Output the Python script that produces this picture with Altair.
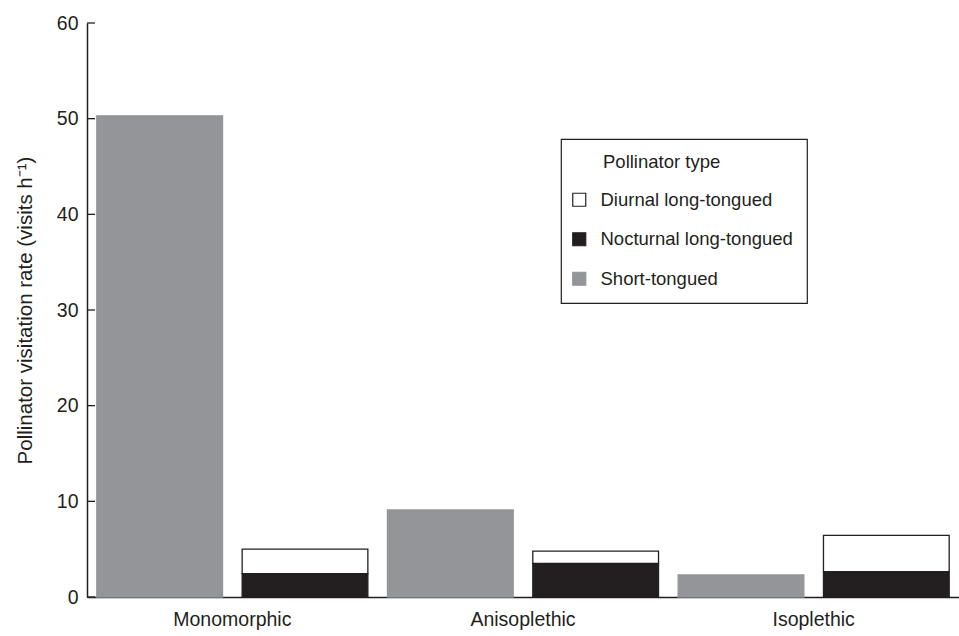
import altair as alt
import pandas as pd

# Visitation rates (visits per hour) by floral morph and pollinator group
morphs = ["Monomorphic", "Anisoplethic", "Isoplethic"]
short_tongued = [50.3, 9.1, 2.3]
nocturnal_long = [2.45, 3.5, 2.65]
diurnal_long = [2.55, 1.3, 3.8]

pollinator_types = ["Diurnal long-tongued", "Nocturnal long-tongued", "Short-tongued"]
fill_colors = ["#ffffff", "#231f20", "#939598"]
stroke_colors = ["#231f20", "#231f20", "#939598"]
stack_order = {"Nocturnal long-tongued": 0, "Diurnal long-tongued": 1, "Short-tongued": 0}

y_ticks = [0, 10, 20, 30, 40, 50, 60]

rows = []
for i, m in enumerate(morphs):
    rows.append({"morph": m, "bar": "a", "type": "Short-tongued", "rate": short_tongued[i]})
    rows.append({"morph": m, "bar": "b", "type": "Nocturnal long-tongued", "rate": nocturnal_long[i]})
    rows.append({"morph": m, "bar": "b", "type": "Diurnal long-tongued", "rate": diurnal_long[i]})
df = pd.DataFrame(rows)
df["order"] = df["type"].map(stack_order)

ticks_df = pd.DataFrame({"v": y_ticks})

FONT = "Liberation Sans"
INK = "#231f20"
FS = 19.5
LEG_FS = 18.5

y_scale = alt.Scale(domain=[0, 60], nice=False)
y_axis = alt.Axis(
    title="Pollinator visitation rate (visits h\u207b\u00b9)",
    values=y_ticks, ticks=False, labelPadding=9,
    labelFontSize=FS, labelFont=FONT, labelColor=INK,
    titleFontSize=20.5, titleFont=FONT, titleColor=INK,
    titleFontWeight="normal", titlePadding=21,
    domainColor=INK, domainWidth=1.5, grid=False,
)
# blank braille cells indent the title so it lines up with the entry labels
legend_title = "\u2800\u2800Pollinator type"

bars = alt.Chart(df).mark_bar(strokeWidth=1.3).encode(
    x=alt.X(
        "morph:N",
        sort=morphs,
        scale=alt.Scale(paddingInner=0, paddingOuter=0),
        axis=alt.Axis(
            title=None, ticks=False, labelAngle=0, labelPadding=13,
            labelFontSize=FS, labelFont=FONT, labelColor=INK,
            domainColor=INK, domainWidth=1.5, grid=False,
        ),
    ),
    xOffset=alt.XOffset("bar:N", scale=alt.Scale(paddingInner=0.135, paddingOuter=0.0675)),
    y=alt.Y("sum(rate):Q", stack="zero", scale=y_scale, axis=y_axis),
    fill=alt.Fill(
        "type:N",
        scale=alt.Scale(domain=pollinator_types, range=fill_colors),
        legend=alt.Legend(title=legend_title),
    ),
    stroke=alt.Stroke(
        "type:N",
        scale=alt.Scale(domain=pollinator_types, range=stroke_colors),
        legend=alt.Legend(title=legend_title),
    ),
    order=alt.Order("order:Q"),
)

# Inward-pointing tick marks on the y axis
tick_marks = alt.Chart(ticks_df).mark_rule(color=INK, strokeWidth=1.3).encode(
    y=alt.Y("v:Q", scale=y_scale, axis=y_axis),
    x=alt.value(0),
    x2=alt.value(8),
)

chart = (
    alt.layer(bars, tick_marks)
    .properties(
        width=872,
        height=574,
        autosize=alt.AutoSizeParams(type="none"),
        padding={"left": 87, "top": 23, "right": 0, "bottom": 39},
    )
    .configure_view(stroke=None)
    .configure_legend(
        orient="none",
        legendX=474,
        legendY=116,
        strokeColor=INK,
        strokeWidth=1.2,
        fillColor="white",
        padding=14,
        titleFont=FONT,
        titleFontSize=LEG_FS,
        titleFontWeight="normal",
        titleColor=INK,
        titlePadding=19,
        labelFont=FONT,
        labelFontSize=LEG_FS,
        labelColor=INK,
        labelOffset=12,
        labelLimit=400,
        symbolType="square",
        symbolSize=169,
        symbolStrokeWidth=1.2,
        symbolOffset=-5,
        rowPadding=20.5,
    )
)

chart.save("out.html", embed_options={"renderer": "svg", "actions": False})
